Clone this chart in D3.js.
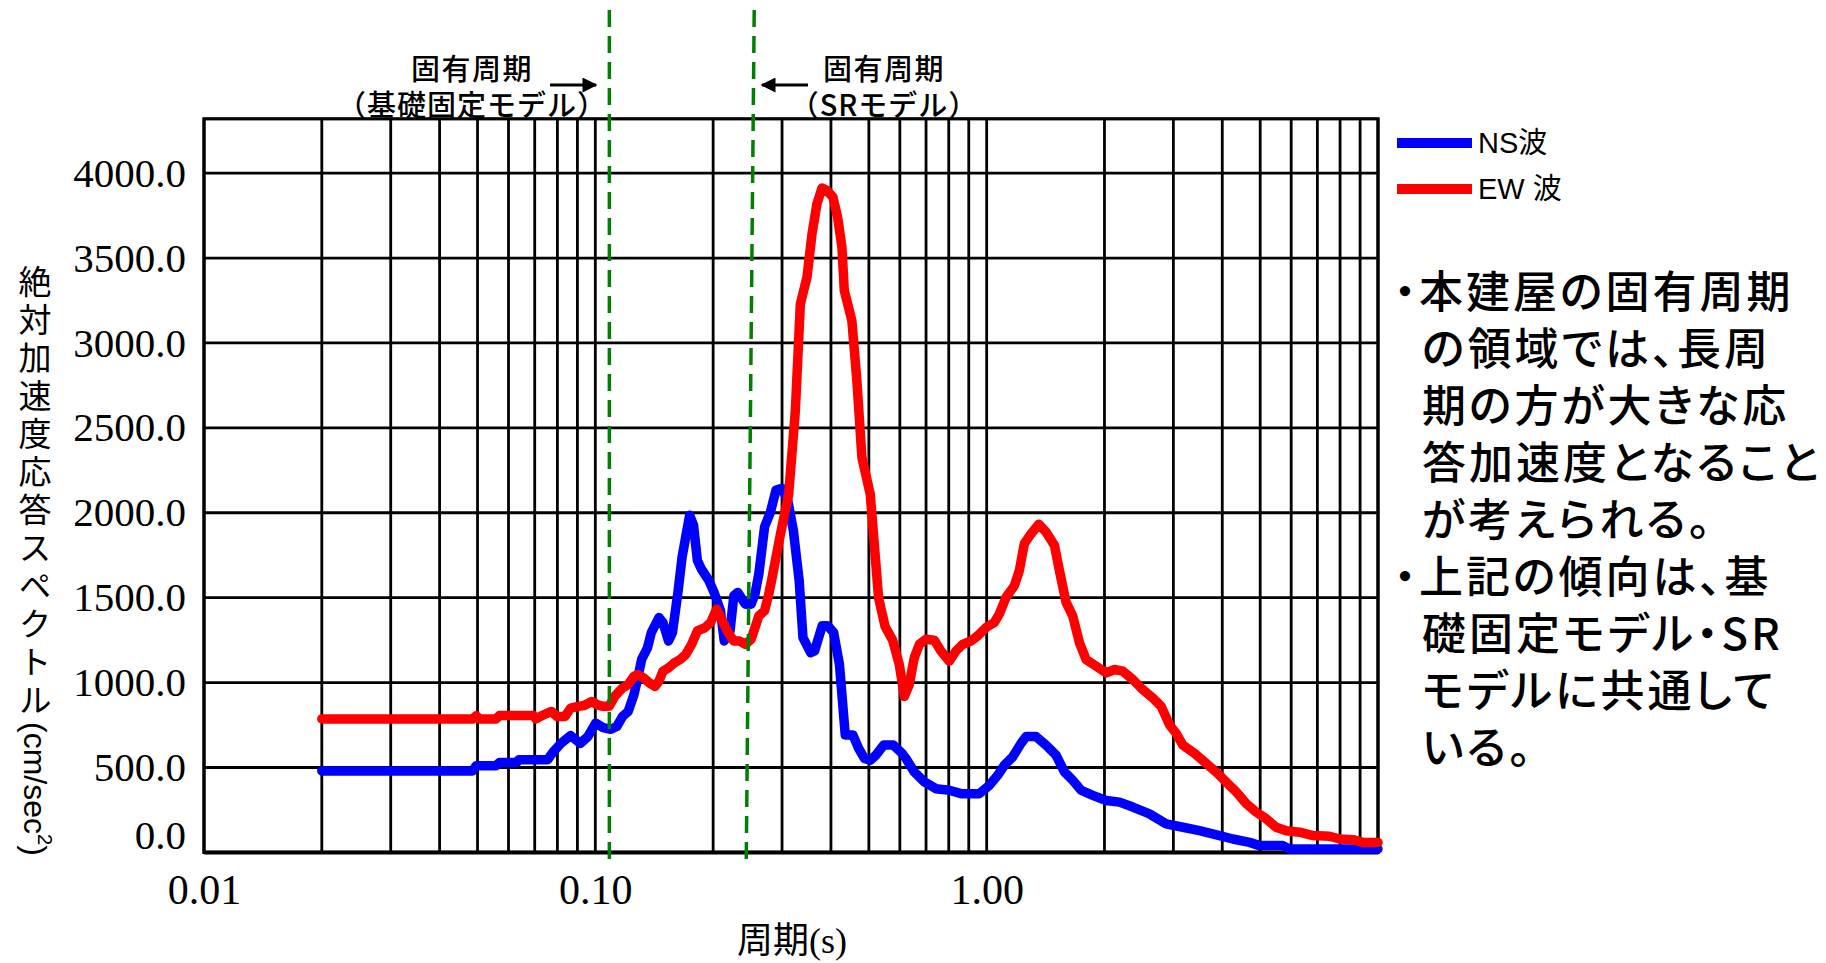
<!DOCTYPE html>
<html lang="ja">

<head>
    <meta charset="UTF-8">
    <title>絶対加速度応答スペクトル</title>
    <script src="https://cdn.jsdelivr.net/npm/d3@7"></script>
    <style>
        * {
            margin: 0;
        }

        body {
            background: #fff;
        }

        svg {
            display: block;
        }

        .axis text {
            font-family: "Liberation Serif", serif;
            fill: #000;
        }

        .jp {
            font-family: "Noto Sans CJK JP", sans-serif;
            fill: #000;
        }

        .latin {
            font-family: "Liberation Sans", "Noto Sans CJK JP", sans-serif;
            fill: #000;
        }

        .vertical {
            writing-mode: vertical-rl;
            text-orientation: upright;
        }
    </style>
</head>

<body>
    <svg id="chart" width="1826" height="963"></svg>
    <script>
        // NS波 (blue)
        var nsPeriod = [0.02, 0.0486, 0.0496, 0.0557, 0.0569, 0.0630, 0.0637, 0.0755, 0.0781, 0.0817,
            0.0865, 0.0915, 0.0957, 0.1002, 0.1047, 0.1096, 0.1134, 0.1173, 0.1213, 0.1255,
            0.1284, 0.1313, 0.1359, 0.1390, 0.1454, 0.1488, 0.1538, 0.1574, 0.1628, 0.1666,
            0.1742, 0.1782, 0.1823, 0.1865, 0.1951, 0.2018, 0.2088, 0.2135, 0.2209, 0.2259,
            0.2312, 0.2418, 0.2501, 0.2559, 0.2617, 0.2707, 0.2802, 0.2896, 0.2997, 0.3101,
            0.3206, 0.3318, 0.3393, 0.3549, 0.3632, 0.3799, 0.3929, 0.4064, 0.4205, 0.4351,
            0.4550, 0.4708, 0.4872, 0.5041, 0.5212, 0.5454, 0.5771, 0.6081, 0.622, 0.653,
            0.693, 0.742, 0.8026, 0.860, 0.958, 1.016, 1.067, 1.110, 1.166, 1.224,
            1.261, 1.337, 1.418, 1.504, 1.580, 1.659, 1.743, 1.867, 2.020, 2.184,
            2.363, 2.606, 2.875, 3.172, 3.499, 3.936, 4.258, 4.697, 4.982, 5.715,
            5.943, 10];
        var nsValue = [480, 480, 510, 510, 530, 530, 545, 545, 593, 642,
            688, 642, 682, 761, 735, 725, 741, 800, 830, 929,
            1028, 1136, 1205, 1294, 1383, 1354, 1245, 1294, 1541, 1739,
            1986, 1927, 1719, 1670, 1600, 1522, 1423, 1245, 1304, 1512,
            1531, 1462, 1462, 1522, 1640, 1917, 2005, 2134, 2144, 2075,
            1897, 1600, 1265, 1176, 1186, 1334, 1334, 1294, 1107, 692,
            692, 613, 553, 543, 573, 632, 632, 583, 553, 474,
            415, 375, 366, 346, 346, 395, 454, 514, 563, 642,
            682, 682, 632, 573, 474, 425, 366, 336, 306, 296,
            267, 227, 168, 148, 128, 99, 79, 59, 40, 40,
            20, 20];

        // EW波 (red)
        var ewPeriod = [0.02, 0.0486, 0.0496, 0.0506, 0.0557, 0.0569, 0.0695, 0.0705, 0.0730, 0.0772,
            0.0799, 0.0836, 0.0865, 0.0904, 0.0936, 0.0979, 0.1013, 0.1047, 0.1084, 0.1121,
            0.1173, 0.1213, 0.1255, 0.1284, 0.1328, 0.1374, 0.1421, 0.1454, 0.1488, 0.1538,
            0.1592, 0.1647, 0.1703, 0.1762, 0.1823, 0.1907, 0.1972, 0.2041, 0.2112, 0.2184,
            0.2259, 0.2337, 0.2418, 0.2501, 0.2559, 0.2617, 0.2707, 0.2769, 0.2829, 0.2971,
            0.3119, 0.3244, 0.3341, 0.3474, 0.3578, 0.3684, 0.3795, 0.3908, 0.4048, 0.4160,
            0.4267, 0.4327, 0.4524, 0.4660, 0.4800, 0.5041, 0.5294, 0.55, 0.575, 0.598,
            0.616, 0.634, 0.653, 0.673, 0.6996, 0.7350, 0.7641, 0.8026, 0.8348, 0.8681,
            0.9118, 0.9484, 0.996, 1.046, 1.077, 1.121, 1.177, 1.212, 1.248, 1.299,
            1.359, 1.418, 1.490, 1.534, 1.596, 1.659, 1.726, 1.795, 1.904, 2.020,
            2.121, 2.227, 2.363, 2.481, 2.659, 2.792, 2.933, 3.050, 3.172, 3.397,
            3.639, 3.898, 4.175, 4.342, 4.606, 4.885, 5.182, 5.495, 5.830, 6.305,
            6.822, 7.522, 7.980, 8.632, 9.155, 10];
        var ewValue = [786, 786, 805, 786, 786, 806, 806, 786, 806, 830,
            800, 800, 850, 860, 865, 889, 869, 860, 860, 919,
            968, 988, 1037, 1047, 1028, 998, 978, 1008, 1067, 1087,
            1116, 1136, 1166, 1225, 1304, 1324, 1354, 1433, 1363, 1294,
            1245, 1245, 1225, 1255, 1324, 1393, 1423, 1512, 1617, 1873,
            2109, 2600, 3229, 3387, 3642, 3819, 3913, 3898, 3858, 3740,
            3564, 3308, 3131, 2777, 2325, 2109, 1500, 1330, 1250, 1107,
            919, 988, 1146, 1225, 1255, 1249, 1186, 1126, 1186, 1225,
            1245, 1275, 1324, 1354, 1403, 1502, 1571, 1660, 1818, 1877,
            1933, 1887, 1808, 1660, 1472, 1393, 1235, 1136, 1097, 1057,
            1077, 1067, 1018, 968, 909, 860, 751, 701, 632, 583,
            524, 464, 395, 356, 287, 237, 198, 148, 128, 119,
            99, 95, 79, 75, 59, 59];

        var yTicks = [0, 500, 1000, 1500, 2000, 2500, 3000, 3500, 4000];
        var xLabelTicks = [0.01, 0.1, 1];
        var seriesNames = ["NS波", "EW 波"];
        var seriesColors = ["#0000ff", "#ff0000"];

        // 固有周期 (green dashed), top / bottom end of each line
        var markPeriodTop = [0.1086, 0.2547];
        var markPeriodBottom = [0.1086, 0.2430];
        var markTitle = ["固有周期", "固有周期"];
        var markModel = ["（基礎固定モデル）", "（SRモデル）"];

        var yTitle = "絶対加速度応答スペクトル";
        var yUnit = "(cm/sec";
        var xTitle = "周期(s)";

        var noteLines = ["・本建屋の固有周期", "の領域では、長周", "期の方が大きな応", "答加速度となること",
            "が考えられる。", "・上記の傾向は、基", "礎固定モデル・SR", "モデルに共通して", "いる。"];

        // layout (plot box)
        var plotLeft = 204, plotRight = 1378, plotTop = 118.8, plotBottom = 852.4;

        var svg = d3.select("#chart");
        svg.append("rect").attr("width", 1826).attr("height", 963).attr("fill", "#fff");

        var x = d3.scaleLog().domain([0.01, 10]).range([plotLeft, plotRight]);
        var y = d3.scaleLinear().domain([0, 4320]).range([plotBottom, plotTop]);

        // grid
        var grid = svg.append("g").attr("stroke", "#000").attr("stroke-width", 2.8);
        grid.selectAll("line.v")
            .data(x.ticks())
            .enter()
            .append("line")
            .attr("class", "v")
            .attr("x1", d => x(d)).attr("x2", d => x(d))
            .attr("y1", plotTop).attr("y2", plotBottom);
        grid.selectAll("line.h")
            .data(yTicks)
            .enter()
            .append("line")
            .attr("class", "h")
            .attr("x1", plotLeft).attr("x2", plotRight)
            .attr("y1", d => y(d)).attr("y2", d => y(d));

        svg.append("rect")
            .attr("x", plotLeft).attr("y", plotTop)
            .attr("width", plotRight - plotLeft).attr("height", plotBottom - plotTop)
            .attr("fill", "none").attr("stroke", "#000").attr("stroke-width", 3.2);
        svg.append("line")
            .attr("x1", plotLeft).attr("x2", plotRight)
            .attr("y1", plotBottom).attr("y2", plotBottom)
            .attr("stroke", "#000").attr("stroke-width", 4);

        // axes (labels only)
        var yAxis = svg.append("g")
            .attr("class", "axis")
            .attr("transform", `translate(${plotLeft},0)`)
            .call(d3.axisLeft(y).tickValues(yTicks).tickFormat(d3.format(".1f")).tickSize(0).tickPadding(18));
        yAxis.select(".domain").remove();
        yAxis.selectAll("text").attr("font-size", 41);
        // 0.0 sits a bit above the axis in the original
        yAxis.selectAll(".tick").filter(d => d === 0).select("text").attr("dy", "-0.1em");

        var xAxis = svg.append("g")
            .attr("class", "axis")
            .attr("transform", `translate(0,${plotBottom})`)
            .call(d3.axisBottom(x).tickValues(xLabelTicks).tickFormat(d3.format(".2f")).tickSize(0).tickPadding(22));
        xAxis.select(".domain").remove();
        xAxis.selectAll("text").attr("font-size", 42);

        // curves
        var line = d3.line()
            .x(d => x(d[0]))
            .y(d => y(d[1]));

        var series = [d3.zip(nsPeriod, nsValue), d3.zip(ewPeriod, ewValue)];
        svg.selectAll("path.series")
            .data(series)
            .enter()
            .append("path")
            .attr("class", "series")
            .attr("d", line)
            .attr("fill", "none")
            .attr("stroke", (d, i) => seriesColors[i])
            .attr("stroke-width", 9.5)
            .attr("stroke-linejoin", "round")
            .attr("stroke-linecap", "round");

        // 固有周期 lines
        svg.selectAll("line.mark")
            .data(markPeriodTop)
            .enter()
            .append("line")
            .attr("class", "mark")
            .attr("x1", d => x(d))
            .attr("x2", (d, i) => x(markPeriodBottom[i]))
            .attr("y1", 10).attr("y2", 862)
            .attr("stroke", "#008000")
            .attr("stroke-width", 3.5)
            .attr("stroke-dasharray", "17 9");

        // arrows + notes above the plot
        svg.append("defs").append("marker")
            .attr("id", "head")
            .attr("viewBox", "0 0 10 10")
            .attr("refX", 9).attr("refY", 5)
            .attr("markerWidth", 6).attr("markerHeight", 5)
            .attr("orient", "auto-start-reverse")
            .attr("markerUnits", "strokeWidth")
            .append("path")
            .attr("d", "M0,0 L10,5 L0,10 Z")
            .attr("fill", "#000");

        var noteX = [472, 884];
        var arrowFrom = [550, 808], arrowTo = [596, 762];
        markTitle.forEach(function (t, i) {
            var note = svg.append("text")
                .attr("class", "jp")
                .attr("text-anchor", "middle")
                .attr("dominant-baseline", "central")
                .attr("font-size", 29)
                .attr("font-weight", 500);
            note.append("tspan")
                .attr("x", noteX[i]).attr("y", 67)
                .attr("letter-spacing", 1.5)
                .text(t);
            note.append("tspan")
                .attr("x", noteX[i]).attr("y", 103)
                .attr("letter-spacing", 1)
                .text(markModel[i]);
            svg.append("line")
                .attr("x1", arrowFrom[i]).attr("x2", arrowTo[i])
                .attr("y1", 85).attr("y2", 85)
                .attr("stroke", "#000").attr("stroke-width", 3)
                .attr("marker-end", "url(#head)");
        });

        // y axis title: vertical writing, unit rotated below it
        svg.append("text")
            .attr("class", "jp vertical")
            .attr("x", 35).attr("y", 265)
            .attr("font-size", 33)
            .attr("letter-spacing", 5)
            .text(yTitle);
        var unit = svg.append("text")
            .attr("class", "latin")
            .attr("transform", "translate(35,722) rotate(90)")
            .attr("dominant-baseline", "central")
            .attr("font-size", 32);
        unit.append("tspan").text(yUnit);
        unit.append("tspan").attr("font-size", 20).attr("dy", -10).text("2");
        unit.append("tspan").attr("dy", 10).text(")");

        // x axis title
        svg.append("text")
            .attr("x", 792).attr("y", 941)
            .attr("text-anchor", "middle")
            .attr("dominant-baseline", "central")
            .attr("font-family", "'Liberation Serif', 'Noto Sans CJK JP', serif")
            .attr("font-size", 36)
            .text(xTitle);

        // legend
        var legend = svg.append("g");
        seriesNames.forEach(function (name, i) {
            var ly = 143 + i * 46;
            legend.append("line")
                .attr("x1", 1397).attr("x2", 1472)
                .attr("y1", ly).attr("y2", ly)
                .attr("stroke", seriesColors[i])
                .attr("stroke-width", 10);
            legend.append("text")
                .attr("class", "latin")
                .attr("x", 1478).attr("y", ly)
                .attr("dominant-baseline", "central")
                .attr("font-size", 29)
                .text(name);
        });

        // side note
        var side = svg.append("text")
            .attr("class", "jp")
            .attr("dominant-baseline", "central")
            .attr("font-size", 44)
            .attr("font-weight", 500)
            .attr("letter-spacing", 3)
            .style("font-feature-settings", "'palt'");
        side.selectAll("tspan")
            .data(noteLines)
            .enter()
            .append("tspan")
            .attr("x", d => d.startsWith("・") ? 1394 : 1422)
            .attr("y", (d, i) => 289 + i * 57)
            .text(d => d);
    </script>
</body>

</html>
